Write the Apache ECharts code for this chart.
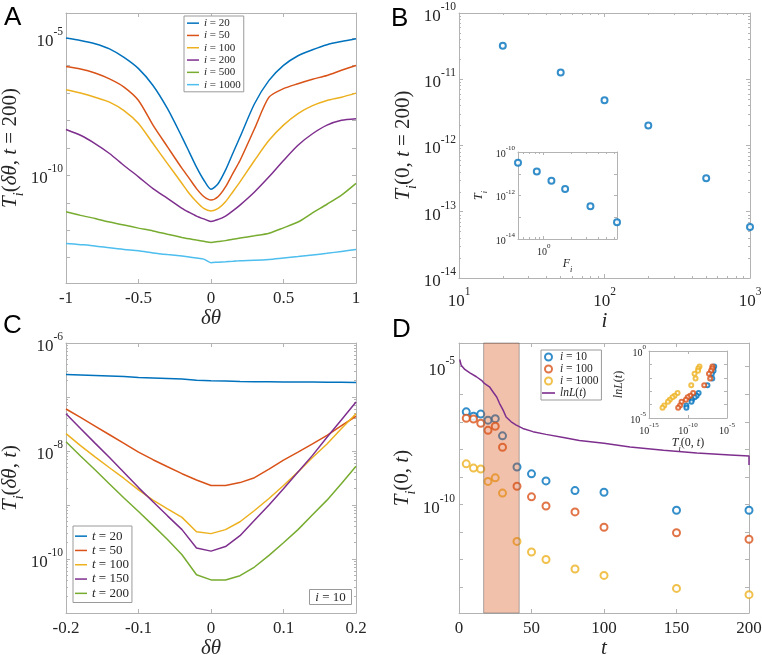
<!DOCTYPE html>
<html>
<head>
<meta charset="utf-8">
<script src="https://cdn.jsdelivr.net/npm/echarts@6/dist/echarts.min.js"></script>
<style>
html,body{margin:0;padding:0;background:#fff;}
#chart{width:762px;height:655px;}
</style>
</head>
<body>
<div id="chart"></div>
<script>
// ---------- panel A : T_i(dtheta, t = 200) ----------
var thetaA = [-1, -0.9, -0.8, -0.7, -0.6, -0.5, -0.4, -0.3, -0.2, -0.15, -0.1, -0.05, 0, 0.05, 0.1, 0.15, 0.2, 0.3, 0.4, 0.5, 0.6, 0.7, 0.8, 0.9, 1];
var iA = [20, 50, 100, 200, 500, 1000];
var A_i20 = [1.02e-5, 8.3e-6, 6.3e-6, 4.1e-6, 2.0e-6, 7.8e-7, 1.9e-7, 2.7e-8, 2.5e-9, 7.1e-10, 2.0e-10, 6.8e-11, 3.1e-11, 5.1e-11, 1.55e-10, 6.3e-10, 2.5e-9, 4.1e-8, 2.9e-7, 1.02e-6, 2.3e-6, 3.8e-6, 5.8e-6, 7.6e-6, 9.5e-6];
var A_i50 = [9.3e-7, 7.6e-7, 5.4e-7, 3.3e-7, 1.66e-7, 5.4e-8, 6.8e-9, 1.1e-9, 1.8e-10, 7.8e-11, 3.3e-11, 1.7e-11, 1.26e-11, 1.7e-11, 3.8e-11, 1.17e-10, 3.5e-10, 5.0e-9, 7.1e-8, 1.45e-7, 2.2e-7, 3.2e-7, 4.4e-7, 6.8e-7, 1.02e-6];
var A_i100 = [1.32e-7, 1.0e-7, 7.1e-8, 4.7e-8, 2.3e-8, 7.8e-9, 1.45e-9, 2.7e-10, 5.1e-11, 2.2e-11, 1.1e-11, 6.3e-12, 5.1e-12, 6.3e-12, 1.1e-11, 2.5e-11, 5.8e-11, 3.5e-10, 1.9e-9, 6.8e-9, 1.8e-8, 3.5e-8, 5.4e-8, 7.1e-8, 1.0e-7];
var A_i200 = [4.7e-9, 2.9e-9, 1.45e-9, 6.3e-10, 2.3e-10, 8.9e-11, 3.3e-11, 1.45e-11, 6.3e-12, 4.5e-12, 3.3e-12, 2.6e-12, 2.1e-12, 2.5e-12, 3.3e-12, 5.1e-12, 8.3e-12, 2.5e-11, 8.9e-11, 3.5e-10, 1.26e-9, 3.3e-9, 6.8e-9, 1.02e-8, 1.17e-8];
var A_i500 = [4.7e-12, 3.5e-12, 2.7e-12, 2.0e-12, 1.55e-12, 1.2e-12, 9.5e-13, 7.2e-13, 5.5e-13, 4.9e-13, 4.4e-13, 4.0e-13, 3.6e-13, 3.9e-13, 4.2e-13, 4.7e-13, 5.2e-13, 6.3e-13, 7.8e-13, 1.23e-12, 2.0e-12, 4.3e-12, 8.9e-12, 1.9e-11, 5.1e-11];
var A_i1000 = [3.3e-13, 3.0e-13, 2.7e-13, 2.3e-13, 2.0e-13, 1.8e-13, 1.5e-13, 1.3e-13, 1.15e-13, 1.07e-13, 9.8e-14, 8.9e-14, 6.6e-14, 6.9e-14, 7.1e-14, 7.4e-14, 7.8e-14, 8.1e-14, 8.7e-14, 9.8e-14, 1.1e-13, 1.26e-13, 1.45e-13, 1.7e-13, 2.0e-13];
var seriesA = [A_i20, A_i50, A_i100, A_i200, A_i500, A_i1000];

// ---------- panel B : T_i(0, t = 200) vs i, inset vs F_i ----------
var iB = [20, 50, 100, 200, 500, 1000];
var TB = [3.2e-11, 1.26e-11, 4.8e-12, 2.0e-12, 3.2e-13, 5.9e-14];
var FB = [0.52, 0.84, 1.22, 1.73, 3.3, 6.5];

// ---------- panel C : T_i(dtheta, t), i = 10 ----------
var thetaC = [-0.2, -0.18, -0.16, -0.14, -0.12, -0.1, -0.08, -0.06, -0.04, -0.02, 0, 0.02, 0.04, 0.06, 0.08, 0.1, 0.12, 0.14, 0.16, 0.18, 0.2];
var tC = [20, 50, 100, 150, 200];
var C_t20 = [2.6e-7, 2.55e-7, 2.5e-7, 2.45e-7, 2.4e-7, 2.3e-7, 2.25e-7, 2.2e-7, 2.15e-7, 2.05e-7, 2.0e-7, 1.97e-7, 1.94e-7, 1.92e-7, 1.91e-7, 1.9e-7, 1.9e-7, 1.89e-7, 1.88e-7, 1.87e-7, 1.86e-7];
var C_t50 = [6.0e-8, 4.2e-8, 2.9e-8, 2.0e-8, 1.38e-8, 9.5e-9, 6.9e-9, 5.1e-9, 3.8e-9, 2.9e-9, 2.3e-9, 2.3e-9, 2.6e-9, 3.2e-9, 4.6e-9, 6.8e-9, 9.5e-9, 1.35e-8, 1.95e-8, 2.95e-8, 4.4e-8];
var C_t100 = [2.1e-8, 1.26e-8, 7.8e-9, 4.9e-9, 3.1e-9, 1.9e-9, 1.23e-9, 8.5e-10, 5.9e-10, 3.2e-10, 2.95e-10, 3.5e-10, 4.9e-10, 7.9e-10, 1.32e-9, 2.3e-9, 4.1e-9, 7.6e-9, 1.35e-8, 2.6e-8, 4.9e-8];
var C_t150 = [4.9e-8, 2.6e-8, 1.4e-8, 7.6e-9, 4.0e-9, 2.1e-9, 1.15e-9, 6.3e-10, 3.5e-10, 1.6e-10, 1.4e-10, 1.7e-10, 2.7e-10, 5.2e-10, 1.0e-9, 2.0e-9, 4.1e-9, 8.3e-9, 1.8e-8, 3.8e-8, 8.1e-8];
var C_t200 = [1.48e-8, 8.1e-9, 4.5e-9, 2.45e-9, 1.35e-9, 7.6e-10, 4.2e-10, 2.3e-10, 1.2e-10, 5.1e-11, 4.1e-11, 4.1e-11, 4.9e-11, 7.1e-11, 1.17e-10, 2.0e-10, 3.5e-10, 6.6e-10, 1.23e-9, 2.5e-9, 5.2e-9];
var seriesC = [C_t20, C_t50, C_t100, C_t150, C_t200];

// ---------- panel D : T_i(0, t) vs t, lnL(t), inset ----------
var tD = [5, 10, 15, 20, 25, 30, 40, 50, 60, 80, 100, 150, 200];
var iD = [10, 100, 1000];
var D_i10 = [2.3e-7, 1.6e-7, 1.9e-7, 1.15e-7, 1.3e-7, 3.1e-8, 2.3e-9, 1.3e-9, 7.2e-10, 3.2e-10, 2.8e-10, 6.2e-11, 6.2e-11];
var D_i100 = [1.35e-7, 1.26e-7, 8.9e-8, 4.9e-8, 6.9e-8, 1.2e-8, 4.6e-10, 1.9e-10, 8.9e-11, 5.4e-11, 1.5e-11, 9.5e-12, 5.5e-12];
var D_i1000 = [3.0e-9, 2.1e-9, 1.95e-9, 6.9e-10, 9.3e-10, 2.6e-10, 4.6e-12, 1.9e-12, 1.02e-12, 4.6e-13, 2.7e-13, 9.1e-14, 5.4e-14];
var seriesD = [D_i10, D_i100, D_i1000];
var tLnL = [0.5, 1.5, 4, 7.5, 12, 15.5, 17.5, 21, 23.5, 26, 28, 30.5, 32.5, 36, 39.5, 44, 51, 60, 72, 83, 100, 118, 141, 164, 187, 200, 200];
var lnL = [1.82e-5, 1.12e-5, 7.9e-6, 5.9e-6, 4.3e-6, 3.2e-6, 2.45e-6, 1.86e-6, 1.2e-6, 7.9e-7, 4.6e-7, 2.6e-7, 1.5e-7, 1.0e-7, 7.6e-8, 5.75e-8, 4.4e-8, 3.5e-8, 2.7e-8, 2.1e-8, 1.66e-8, 1.23e-8, 9.3e-9, 7.4e-9, 6.3e-9, 5.75e-9, 2.7e-9];
var lnLInset = [7.1e-2, 4.9e-2, 3.4e-2, 2.0e-2, 8.9e-3, 2.8e-3, 7.4e-4, 4.6e-4, 3.5e-4, 2.3e-4, 1.66e-4, 8.7e-5, 5.8e-5];
var bandD = [17, 41.5];

// ---------- styles ----------
var COL = ['#0072BD', '#D95319', '#EDB120', '#7E2F8E', '#77AC30', '#4DBEEE'];
var SERIF = '"Liberation Serif", "Times New Roman", serif';
var SANS = '"Liberation Sans", Arial, sans-serif';
var INK = '#262626';
var BOX = '#b3b3b3';
var LINE_ICON = 'path://M0,0H24V3H0Z';

function zip(xs, ys) {
    var out = [];
    for (var k = 0; k < xs.length; k++) out.push([xs[k], ys[k]]);
    return out;
}
// 2..9 x 10^n positions for log minor ticks
function minorLog(lo, hi) {
    var out = [];
    for (var e = lo; e < hi; e++) {
        for (var m = 2; m <= 9; m++) out.push(m * Math.pow(10, e));
    }
    return out;
}
function tickRich(fs, ss) {
    return {
        b: {fontFamily: SERIF, fontSize: fs, color: INK, lineHeight: Math.round(fs * 1.4), verticalAlign: 'bottom'},
        s: {fontFamily: SERIF, fontSize: ss, color: INK, lineHeight: ss, verticalAlign: 'top'}
    };
}
function mathRich(fs, ss) {
    var lh = Math.round(fs * 1.3);
    return {
        it: {fontFamily: SERIF, fontStyle: 'italic', fontSize: fs, color: INK, lineHeight: lh, verticalAlign: 'top'},
        rm: {fontFamily: SERIF, fontSize: fs, color: INK, lineHeight: lh, verticalAlign: 'top'},
        sub: {fontFamily: SERIF, fontStyle: 'italic', fontSize: ss, color: INK, lineHeight: ss, verticalAlign: 'bottom'}
    };
}
function pow10(v) {
    return '{b|10}{s|' + Math.round(Math.log10(v)) + '}';
}

var grids = [], xAxes = [], yAxes = [], series = [];

function mkAxis(gi, pos, o, mirror) {
    var a = {
        type: o.type, gridIndex: gi, position: pos, min: o.min, max: o.max,
        axisLine: {show: true, onZero: false, lineStyle: {color: BOX, width: 1}},
        axisTick: {show: true, inside: true, length: o.tickLen || 4, lineStyle: {color: BOX, width: 1}},
        splitLine: {show: false},
        axisPointer: {show: false},
        axisLabel: {
            show: !mirror, margin: o.margin, color: INK, fontFamily: SERIF, fontSize: o.fs || 17,
            hideOverlap: false, rich: o.rich, formatter: o.fmt
        }
    };
    if (o.type === 'log') {
        a.logBase = 10;
        a.axisTick.customValues = o.ticks;
        a.axisLabel.customValues = o.labels;
    } else {
        a.interval = o.interval;
    }
    if (!mirror && o.name) {
        a.name = o.name;
        a.nameLocation = 'middle';
        a.nameGap = o.nameGap;
        a.nameRotate = o.nameRotate || 0;
        a.nameTextStyle = {rich: o.nameRich};
    }
    return a;
}
// an extra bare axis carrying only short minor ticks
function mkMinor(gi, pos, o, vals) {
    return {
        type: 'log', logBase: 10, gridIndex: gi, position: pos, min: o.min, max: o.max,
        axisLine: {show: false, onZero: false}, splitLine: {show: false}, axisLabel: {show: false}, axisPointer: {show: false},
        axisTick: {show: true, inside: true, length: 2, customValues: vals, lineStyle: {color: BOX, width: 1}}
    };
}
function addPanel(rect, xo, yo) {
    var gi = grids.length;
    grids.push({left: rect[0], top: rect[1], width: rect[2], height: rect[3], containLabel: false, outerBoundsMode: 'none', show: true, backgroundColor: '#fff', borderWidth: 0});
    var xi = xAxes.length, yi = yAxes.length;
    xAxes.push(mkAxis(gi, 'bottom', xo, false));
    xAxes.push(mkAxis(gi, 'top', xo, true));
    yAxes.push(mkAxis(gi, 'left', yo, false));
    yAxes.push(mkAxis(gi, 'right', yo, true));
    if (xo.minor) { xAxes.push(mkMinor(gi, 'bottom', xo, xo.minor)); xAxes.push(mkMinor(gi, 'top', xo, xo.minor)); }
    if (yo.minor) { yAxes.push(mkMinor(gi, 'left', yo, yo.minor)); yAxes.push(mkMinor(gi, 'right', yo, yo.minor)); }
    return {x: xi, y: yi};
}

var R17 = tickRich(17, 11.5);
var R10 = tickRich(10, 7);
var M21 = mathRich(21, 14);
var M12 = mathRich(12, 8.5);

// A
var pA = addPanel([66, 13, 290, 270],
    {type: 'value', min: -1, max: 1, interval: 0.5, margin: 7, name: '{it|δθ}', nameGap: 21, nameRich: M21},
    {type: 'log', min: 1.2e-14, max: 8.3e-5, ticks: [1e-13, 1e-12, 1e-11, 1e-10, 1e-9, 1e-8, 1e-7, 1e-6, 1e-5], labels: [1e-10, 1e-5],
     fmt: pow10, rich: R17, margin: 3, name: '{it|T}{sub|i}{rm|(}{it|δθ}{rm|, }{it|t}{rm| = 200)}', nameGap: 39, nameRotate: 90, nameRich: M21});
// B
var pB = addPanel([459, 13, 291, 265],
    {type: 'log', min: 10, max: 1000, ticks: [10, 100, 1000], labels: [10, 100, 1000], minor: minorLog(1, 3),
     fmt: pow10, rich: R17, margin: 8, name: '{it|i}', nameGap: 28, nameRich: M21},
    {type: 'log', min: 1e-14, max: 1e-10, ticks: [1e-14, 1e-13, 1e-12, 1e-11, 1e-10], labels: [1e-14, 1e-13, 1e-12, 1e-11, 1e-10], minor: minorLog(-14, -10),
     fmt: pow10, rich: R17, margin: 3, name: '{it|T}{sub|i}{rm|(0, }{it|t}{rm| = 200)}', nameGap: 39, nameRotate: 90, nameRich: M21});
// C
var pC = addPanel([66, 343, 290, 270],
    {type: 'value', min: -0.2, max: 0.2, interval: 0.1, margin: 7, name: '{it|δθ}', nameGap: 19, nameRich: M21},
    {type: 'log', min: 1e-11, max: 1e-6, ticks: [1e-11, 1e-10, 1e-9, 1e-8, 1e-7, 1e-6], labels: [1e-10, 1e-8, 1e-6], minor: minorLog(-11, -6),
     fmt: pow10, rich: R17, margin: 3, name: '{it|T}{sub|i}{rm|(}{it|δθ}{rm|, }{it|t}{rm|)}', nameGap: 39, nameRotate: 90, nameRich: M21});
// D
var pD = addPanel([459, 343, 290, 270],
    {type: 'value', min: 0, max: 200, interval: 50, margin: 7, name: '{it|t}', nameGap: 18, nameRich: M21},
    {type: 'log', min: 1.17e-14, max: 7.2e-5, ticks: [1e-13, 1e-12, 1e-11, 1e-10, 1e-9, 1e-8, 1e-7, 1e-6, 1e-5], labels: [1e-10, 1e-5],
     fmt: pow10, rich: R17, margin: 4, name: '{it|T}{sub|i}{rm|(0, }{it|t}{rm|)}', nameGap: 39, nameRotate: 90, nameRich: M21});
// inset B
var pBi = addPanel([518, 152, 99, 87],
    {type: 'log', min: 0.52, max: 6.5, ticks: [1], labels: [1], minor: [0.6, 0.7, 0.8, 0.9, 2, 3, 4, 5, 6],
     fmt: pow10, rich: R10, fs: 10, margin: 4, tickLen: 3, name: '{it|F}{sub|i}', nameGap: 19, nameRich: M12},
    {type: 'log', min: 1e-14, max: 1e-10, ticks: [1e-14, 1e-13, 1e-12, 1e-11, 1e-10], labels: [1e-14, 1e-12, 1e-10], fmt: pow10, rich: R10, fs: 10, margin: 3, tickLen: 3,
     name: '{it|T}{sub|i}', nameGap: 29, nameRotate: 90, nameRich: M12});
// inset D
var pDi = addPanel([649, 351, 78, 67],
    {type: 'log', min: 1e-15, max: 1e-5, ticks: [1e-15, 1e-10, 1e-5], labels: [1e-15, 1e-10, 1e-5], fmt: pow10, rich: R10, fs: 10, margin: 4, tickLen: 3,
     name: '{it|T}{sub|i}{rm|(0, }{it|t}{rm|)}', nameGap: 16, nameRich: M12},
    {type: 'log', min: 1e-5, max: 1, ticks: [1e-5, 1e-4, 1e-3, 1e-2, 1e-1, 1], labels: [1e-5, 1], fmt: pow10, rich: R10, fs: 10, margin: 3, tickLen: 3,
     name: '{it|lnL}{rm|(}{it|t}{rm|)}', nameGap: 20, nameRotate: 90, nameRich: M12});

// series A
seriesA.forEach(function (ys, k) {
    series.push({name: 'A|' + iA[k], type: 'line', xAxisIndex: pA.x, yAxisIndex: pA.y, data: zip(thetaA, ys),
        symbol: 'none', smooth: 0.25, lineStyle: {width: 1.5, color: COL[k]}, itemStyle: {color: COL[k]}, z: 2});
});
// series B
series.push({name: 'B', type: 'scatter', xAxisIndex: pB.x, yAxisIndex: pB.y, data: zip(iB, TB),
    symbol: 'emptyCircle', symbolSize: 6, itemStyle: {color: COL[0], borderWidth: 1.5}});
series.push({name: 'Bi', type: 'scatter', xAxisIndex: pBi.x, yAxisIndex: pBi.y, data: zip(FB, TB),
    symbol: 'emptyCircle', symbolSize: 6, itemStyle: {color: COL[0], borderWidth: 1.5}});
// series C
seriesC.forEach(function (ys, k) {
    series.push({name: 'C|' + tC[k], type: 'line', xAxisIndex: pC.x, yAxisIndex: pC.y, data: zip(thetaC, ys),
        symbol: 'none', lineStyle: {width: 1.5, color: COL[k]}, itemStyle: {color: COL[k]}, z: 2});
});
// series D
seriesD.forEach(function (ys, k) {
    series.push({name: 'D|' + iD[k], type: 'scatter', xAxisIndex: pD.x, yAxisIndex: pD.y, data: zip(tD, ys),
        symbol: 'emptyCircle', symbolSize: 7, itemStyle: {color: COL[k], borderWidth: 1.5}, z: 2});
    series.push({name: 'Di|' + iD[k], type: 'scatter', xAxisIndex: pDi.x, yAxisIndex: pDi.y, data: zip(ys, lnLInset),
        symbol: 'emptyCircle', symbolSize: 4, itemStyle: {color: COL[k], borderWidth: 1}, z: 2});
});
series.push({name: 'D|lnL', type: 'line', xAxisIndex: pD.x, yAxisIndex: pD.y, data: zip(tLnL, lnL),
    symbol: 'none', lineStyle: {width: 1.5, color: COL[3]}, itemStyle: {color: COL[3]}, z: 5});
// shaded band in D (drawn over the circles)
series.push({name: 'band', type: 'line', xAxisIndex: pD.x, yAxisIndex: pD.y, data: [],
    markArea: {silent: true, z: 4, itemStyle: {color: 'rgba(217,83,25,0.36)', borderColor: 'rgba(110,110,110,0.55)', borderWidth: 1},
        data: [[{xAxis: bandD[0]}, {xAxis: bandD[1]}]]}});

function legendFmt(name) {
    var p = name.split('|');
    if (p[1] === 'lnL') return '{it|lnL}({it|t})';
    return '{it|' + (p[0] === 'C' ? 't' : 'i') + '} = ' + p[1];
}
function legendBox(left, top, items, fs, lh, iw, ih, pad) {
    return {
        left: left, top: top, orient: 'vertical', data: items, selectedMode: false,
        itemWidth: iw, itemHeight: ih, itemGap: 0, padding: pad,
        borderColor: '#9a9a9a', borderWidth: 1, backgroundColor: '#fff',
        formatter: legendFmt,
        textStyle: {fontFamily: SERIF, fontSize: fs, color: INK, lineHeight: lh,
            rich: {it: {fontFamily: SERIF, fontStyle: 'italic', fontSize: fs, color: INK, lineHeight: lh}}}
    };
}
function lineItems(prefix, vals) {
    return vals.map(function (v) { return {name: prefix + v, icon: LINE_ICON}; });
}

var option = {
    animation: false,
    backgroundColor: '#fff',
    grid: grids,
    xAxis: xAxes,
    yAxis: yAxes,
    series: series,
    legend: [
        legendBox(184, 16, lineItems('A|', iA), 11, 12.3, 12, 12, [1, 3, 1, 3]),
        legendBox(73, 526, lineItems('C|', tC), 13, 14.3, 12, 12, [3, 3, 2, 2]),
        legendBox(541, 350, [{name: 'D|10', icon: 'emptyCircle'}, {name: 'D|100', icon: 'emptyCircle'},
            {name: 'D|1000', icon: 'emptyCircle'}, {name: 'D|lnL', icon: LINE_ICON}], 11.5, 12, 13, 7, [1, 3, 1, 1])
    ],
    graphic: [
        {type: 'text', left: 4, top: 5, style: {text: 'A', font: '26px ' + SANS, fill: '#000'}},
        {type: 'text', left: 391, top: 6, style: {text: 'B', font: '26px ' + SANS, fill: '#000'}},
        {type: 'text', left: 3, top: 313, style: {text: 'C', font: '26px ' + SANS, fill: '#000'}},
        {type: 'text', left: 392, top: 317, style: {text: 'D', font: '26px ' + SANS, fill: '#000'}},
        {type: 'group', left: 309, top: 589, children: [
            {type: 'rect', shape: {x: 0, y: 0, width: 42, height: 15}, style: {fill: '#fff', stroke: '#9a9a9a', lineWidth: 1}},
            {type: 'text', x: 21, y: 8, style: {text: '{it|i} = 10', align: 'center', verticalAlign: 'middle',
                font: '13px ' + SERIF, fill: INK,
                rich: {it: {fontFamily: SERIF, fontStyle: 'italic', fontSize: 13, fill: INK}}}}
        ]}
    ]
};

var myChart = echarts.init(document.getElementById('chart'));
myChart.setOption(option);
</script>
</body>
</html>
